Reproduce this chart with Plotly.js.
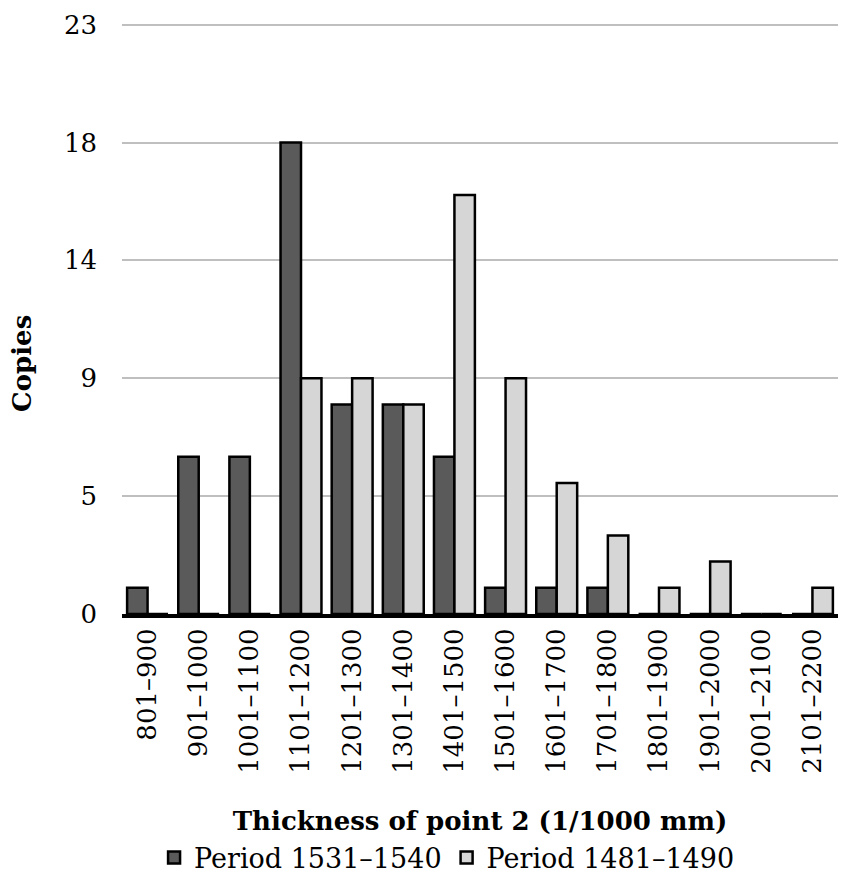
<!DOCTYPE html>
<html>
<head>
<meta charset="utf-8">
<script src="https://cdn.plot.ly/plotly-3.0.1.min.js"></script>
<style>html,body{margin:0;padding:0;background:#fff;}#chart{width:841px;height:883px;}</style>
</head>
<body>
<div id="chart"></div>
<script>
const categories = ["801–900","901–1000","1001–1100","1101–1200","1201–1300","1301–1400","1401–1500","1501–1600","1601–1700","1701–1800","1801–1900","1901–2000","2001–2100","2101–2200"];
const period1531 = [1, 6, 6, 18, 8, 8, 6, 1, 1, 1, 0, 0, 0, 0];
const period1481 = [0, 0, 0, 9, 9, 8, 16, 9, 5, 3, 1, 2, 0, 1];
const yTickVals = [0, 4.5, 9, 13.5, 18, 22.5];
const yTickText = ["0", "5", "9", "14", "18", "23"];

const SERIF = 'DejaVu Serif, serif';

const traces = [
  {type: 'bar', name: 'Period 1531–1540', x: categories, y: period1531,
   marker: {color: '#5a5a5a', line: {color: '#000', width: 2.5}}},
  {type: 'bar', name: 'Period 1481–1490', x: categories, y: period1481,
   marker: {color: '#d6d6d6', line: {color: '#000', width: 2.5}}}
];

const layout = {
  width: 841, height: 883,
  margin: {l: 122, r: 3, t: 22, b: 269, autoexpand: false},
  paper_bgcolor: '#fff', plot_bgcolor: '#fff',
  barmode: 'group', bargap: 0.2, bargroupgap: 0,
  font: {family: SERIF, color: '#000'},
  showlegend: true,
  legend: {orientation: 'h', x: 0.454, xanchor: 'center', y: -0.412, yanchor: 'middle',
           font: {size: 27, family: SERIF}, itemwidth: 30, tracegroupgap: 0},
  xaxis: {
    type: 'category',
    tickangle: -90,
    tickfont: {size: 26, family: SERIF},
    showgrid: false, showline: true, linecolor: '#000', linewidth: 4,
    ticks: '', zeroline: false,
    title: {text: '<b>Thickness of point 2 (1/1000 mm)</b>', font: {size: 26, family: SERIF}, standoff: 40},
    automargin: false
  },
  yaxis: {
    range: [0, 22.6],
    tickvals: yTickVals, ticktext: yTickText,
    tickfont: {size: 26, family: SERIF},
    showgrid: true, gridcolor: '#bfbfbf', gridwidth: 2,
    zeroline: false, showline: false, ticks: '',
    ticklabelstandoff: 24,
    automargin: false
  },
  annotations: [{
    text: '<b>Copies</b>', xref: 'paper', yref: 'paper',
    x: -0.1397, y: 0.424, xanchor: 'center', yanchor: 'middle',
    textangle: -90, showarrow: false, font: {size: 26, family: SERIF}
  }]
};

Plotly.newPlot('chart', traces, layout, {displayModeBar: false, staticPlot: true});
</script>
</body>
</html>
